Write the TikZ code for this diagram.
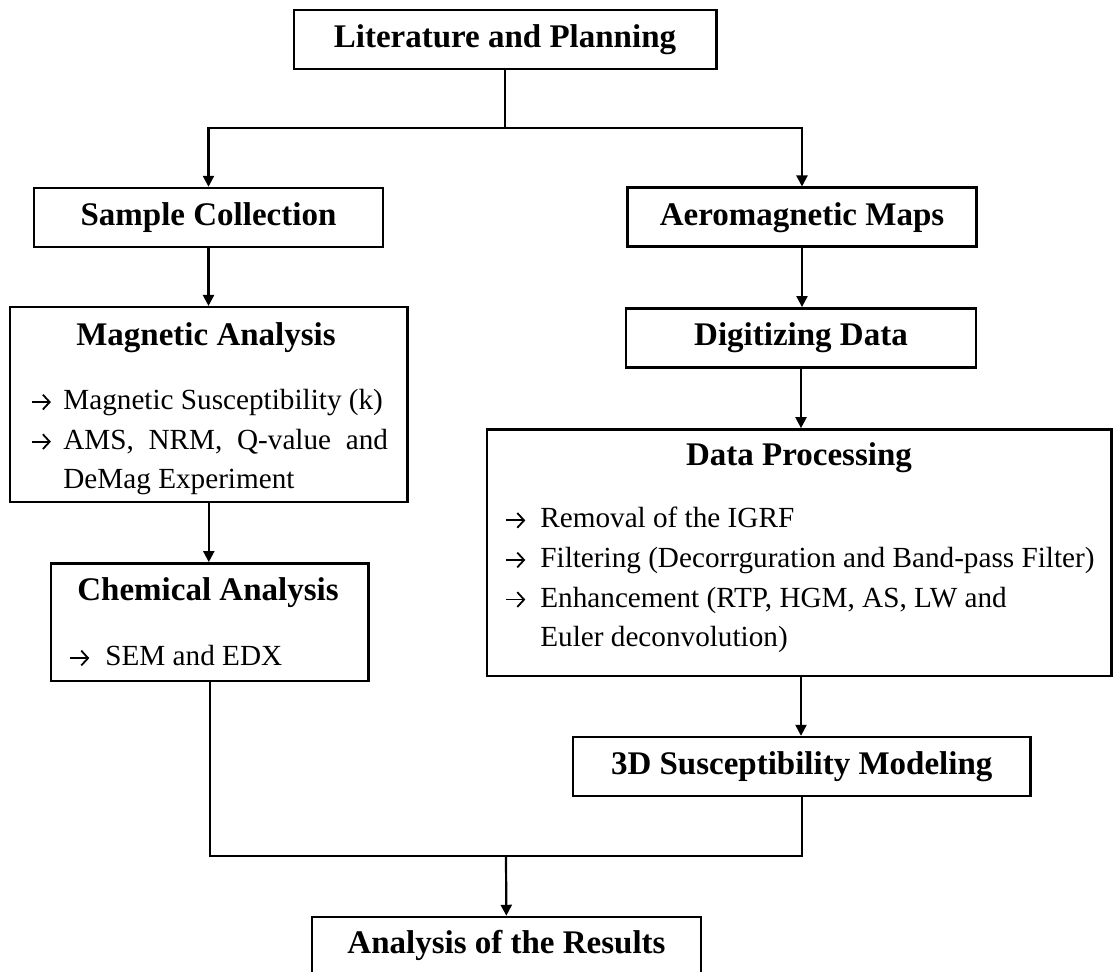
\documentclass[tikz,border=0pt]{standalone}
\usepackage{fontspec}
\setmainfont{Liberation Serif}
\usetikzlibrary{arrows.meta}
\tikzstyle{procbox} = [draw, line width=1.25pt, inner sep=0pt, font=\fontsize{16.5}{19.8}\selectfont\bfseries]
\tikzstyle{boxtitle} = [inner sep=0pt, font=\fontsize{16.5}{19.8}\selectfont\bfseries]
\tikzstyle{boxlist} = [inner sep=0pt, anchor=north west, align=left, font=\fontsize{14.6}{19.8}\selectfont]
\tikzstyle{link} = [line width=1.1pt]
\newcommand{\itm}[1][17.5pt]{\makebox[#1][l]{\tikz[baseline=-3.8pt]\draw[line width=0.9pt, -{Straight Barb[length=3.4pt, width=7.4pt]}] (0pt,0pt) -- (9.5pt,0pt);}}

\begin{document}
\begin{tikzpicture}[x=0.5pt, y=-0.5pt, >={Triangle[length=5.5pt, width=5.5pt]}]
      \clip (0,0) rectangle (1114,971);
      \fill[white] (0,0) rectangle (1114,971);

      \node[procbox, minimum width=211.25pt, minimum height=29.5pt] (lit) at (505, 39.5) {Literature and Planning};
      \node[procbox, minimum width=174.5pt, minimum height=29.5pt] (sample) at (208.5, 217.5) {Sample Collection};
      \node[procbox, minimum width=174.5pt, minimum height=29.5pt] (aero) at (802, 217.2) {Aeromagnetic Maps};
      \node[procbox, minimum width=198.8pt, minimum height=97.5pt] (magnetic) at (208.8, 404.7) {};
      \node[procbox, minimum width=175pt, minimum height=29.5pt] (digit) at (801, 337.8) {Digitizing Data};
      \node[procbox, minimum width=158.65pt, minimum height=58.85pt] (chem) at (209.7, 622.2) {};
      \node[procbox, minimum width=312.25pt, minimum height=123.3pt] (dproc) at (799.25, 552.7) {};
      \node[procbox, minimum width=228.9pt, minimum height=29.35pt] (model) at (801.7, 766.4) {3D Susceptibility Modeling};
      \node[procbox, minimum width=194.5pt, minimum height=28pt] (results) at (506.5, 945) {Analysis of the Results};

      % texts inside the analysis boxes
      \node[boxtitle] (magtitle) at (206, 338) {Magnetic Analysis};
      \node[boxlist] (maglist) at (30.6, 389) {\itm[16.2pt]Magnetic Susceptibility (k)\\
        \itm[16.2pt]\makebox[162.3pt][s]{AMS, NRM, Q-value and}\\
        \hspace*{16.2pt}DeMag Experiment};
      \node[boxtitle] (chemtitle) at (208, 593) {Chemical Analysis};
      \node[boxlist] (chemlist) at (69, 645) {\itm[18pt]SEM and EDX};
      \node[boxtitle] (dptitle) at (799, 457.5) {Data Processing};
      \node[boxlist] (dplist) at (505, 507) {\itm Removal of the IGRF\\
        \itm Filtering (Decorrguration and Band-pass Filter)\\
        \itm Enhancement (RTP, HGM, AS, LW and\\
        \hspace*{17.5pt}Euler deconvolution)};

      \coordinate (split) at (505, 127.7);
      \coordinate (merge) at (506, 855.7);

      \draw[link] (lit) -- (split);
      \draw[->, link] (split) -| (sample);
      \draw[->, link] (split) -| (aero);
      \draw[->, link] (sample.south) -- (sample.south |- magnetic.north);
      \draw[->, link] (magnetic.south) -- (magnetic.south |- chem.north);
      \draw[->, link] (aero.south) -- (aero.south |- digit.north);
      \draw[->, link] (digit.south) -- (digit.south |- dproc.north);
      \draw[->, link] (dproc.south -| digit.south) -- (model.north -| digit.south);
      \draw[link] (chem.south) |- (merge) -| (model.south);
      \draw[->, link] (merge) -- (results);
    \end{tikzpicture}
\end{document}
